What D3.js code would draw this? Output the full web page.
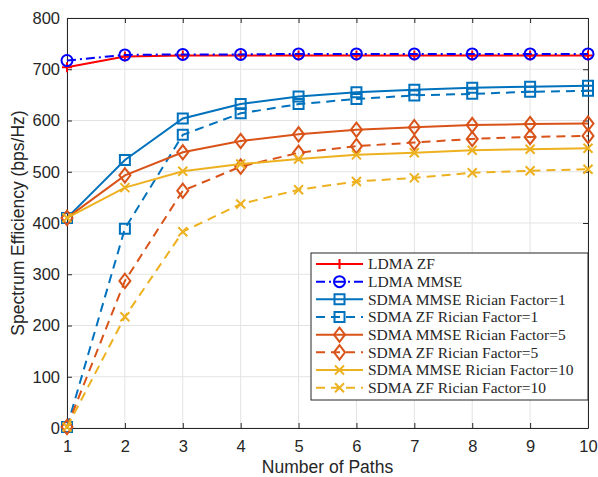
<!DOCTYPE html>
<html>
<head>
<meta charset="utf-8">
<script src="https://cdn.jsdelivr.net/npm/d3@7"></script>
<style>
  body { margin: 0; background: #fff; }
  svg { display: block; }
</style>
</head>
<body>
<svg id="chart" width="598" height="477"></svg>
<script>
const paths = [1, 2, 3, 4, 5, 6, 7, 8, 9, 10];
const yTicks = [0, 100, 200, 300, 400, 500, 600, 700, 800];

const ldmaZF = [704, 725, 727, 727, 727, 727, 727, 727, 727, 727];
const ldmaMMSE = [717, 728, 729, 729, 730, 730, 730, 730, 730, 730];
const sdmaMMSE1 = [410, 523, 604, 632, 647, 655, 660, 664, 666, 668];
const sdmaZF1 = [2, 389, 572, 614, 632, 642, 649, 652, 656, 658];
const sdmaMMSE5 = [410, 493, 538, 560, 573, 582, 587, 591, 593, 594];
const sdmaZF5 = [2, 287, 463, 510, 537, 550, 557, 564, 568, 570];
const sdmaMMSE10 = [410, 469, 501, 515, 525, 533, 537, 542, 544, 546];
const sdmaZF10 = [2, 217, 383, 437, 465, 481, 488, 498, 502, 505];

const series = [
  { name: "LDMA ZF", values: ldmaZF, color: "#ff0000", dash: null, marker: "plus" },
  { name: "LDMA MMSE", values: ldmaMMSE, color: "#0000ff", dash: "9,4,2,4", marker: "circle" },
  { name: "SDMA MMSE Rician Factor=1", values: sdmaMMSE1, color: "#0072bd", dash: null, marker: "square" },
  { name: "SDMA ZF Rician Factor=1", values: sdmaZF1, color: "#0072bd", dash: "9,6", marker: "square" },
  { name: "SDMA MMSE Rician Factor=5", values: sdmaMMSE5, color: "#d95319", dash: null, marker: "diamond" },
  { name: "SDMA ZF Rician Factor=5", values: sdmaZF5, color: "#d95319", dash: "9,6", marker: "diamond" },
  { name: "SDMA MMSE Rician Factor=10", values: sdmaMMSE10, color: "#edb120", dash: null, marker: "cross" },
  { name: "SDMA ZF Rician Factor=10", values: sdmaZF10, color: "#edb120", dash: "9,6", marker: "cross" }
];

const svg = d3.select("#chart");
const margin = { left: 67, right: 10, top: 18, bottom: 49 };
const width = 598 - margin.left - margin.right;
const height = 477 - margin.top - margin.bottom;

const x = d3.scaleLinear().domain([1, 10]).range([0, width]);
const y = d3.scaleLinear().domain([0, 800]).range([height, 0]);

const g = svg.append("g").attr("transform", `translate(${margin.left},${margin.top})`);

// grid
g.append("g").selectAll("line").data(paths).enter().append("line")
  .attr("x1", d => x(d)).attr("x2", d => x(d))
  .attr("y1", 0).attr("y2", height)
  .attr("stroke", "#e3e3e3").attr("stroke-width", 1);
g.append("g").selectAll("line").data(yTicks).enter().append("line")
  .attr("x1", 0).attr("x2", width)
  .attr("y1", d => y(d)).attr("y2", d => y(d))
  .attr("stroke", "#e3e3e3").attr("stroke-width", 1);

// axes
const axisColor = "#262626";
const tickFont = "16.5px 'Liberation Sans', Arial, sans-serif";

const xAxis = g.append("g").attr("transform", `translate(0,${height})`)
  .call(d3.axisBottom(x).tickValues(paths).tickFormat(d3.format("d")).tickSizeInner(-5).tickSizeOuter(0).tickPadding(12));
const xTop = g.append("g")
  .call(d3.axisTop(x).tickValues(paths).tickFormat("").tickSizeInner(-5).tickSizeOuter(0));
const yAxis = g.append("g")
  .call(d3.axisLeft(y).tickValues(yTicks).tickFormat(d3.format("d")).tickSizeInner(-5).tickSizeOuter(0).tickPadding(7));
const yRight = g.append("g").attr("transform", `translate(${width},0)`)
  .call(d3.axisRight(y).tickValues(yTicks).tickFormat("").tickSizeInner(-5).tickSizeOuter(0));

[xAxis, xTop, yAxis, yRight].forEach(a => {
  a.select(".domain").attr("stroke", axisColor).attr("stroke-width", 1);
  a.selectAll(".tick line").attr("stroke", axisColor);
  a.selectAll(".tick text").attr("fill", axisColor).style("font", tickFont);
});

// lines
const line = d3.line().x((d, i) => x(paths[i])).y(d => y(d));

const symbolPath = {
  plus: s => `M${-s},0H${s}M0,${-s}V${s}`,
  cross: s => `M${-s},${-s}L${s},${s}M${-s},${s}L${s},${-s}`,
  square: s => `M${-s},${-s}H${s}V${s}H${-s}Z`,
  diamond: s => `M0,${-s * 1.3}L${s},0L0,${s * 1.3}L${-s},0Z`,
  circle: s => `M${-s},0A${s},${s} 0 1,0 ${s},0A${s},${s} 0 1,0 ${-s},0Z`
};
const symbolSize = { plus: 5, cross: 4.5, square: 5, diamond: 5.5, circle: 5.5 };

function drawMarker(sel, s) {
  sel.append("path")
    .attr("d", symbolPath[s.marker](symbolSize[s.marker]))
    .attr("fill", "none")
    .attr("stroke", s.color)
    .attr("stroke-width", 2);
}

series.forEach(s => {
  g.append("path")
    .datum(s.values)
    .attr("d", line)
    .attr("fill", "none")
    .attr("stroke", s.color)
    .attr("stroke-width", 2)
    .attr("stroke-dasharray", s.dash);
  g.append("g").selectAll("g").data(s.values).enter().append("g")
    .attr("transform", (d, i) => `translate(${x(paths[i])},${y(d)})`)
    .each(function () { drawMarker(d3.select(this), s); });
});

// axis labels
const labelFont = "17.5px 'Liberation Sans', Arial, sans-serif";
svg.append("text")
  .attr("x", margin.left + width / 2).attr("y", 473)
  .attr("text-anchor", "middle").attr("fill", axisColor)
  .style("font", labelFont)
  .text("Number of Paths");
svg.append("text")
  .attr("transform", `translate(24,${margin.top + height / 2}) rotate(-90)`)
  .attr("text-anchor", "middle").attr("fill", axisColor)
  .style("font", labelFont)
  .text("Spectrum Efficiency (bps/Hz)");

// legend
const legend = svg.append("g").attr("transform", "translate(311,253)");
legend.append("rect")
  .attr("width", 277).attr("height", 147)
  .attr("fill", "#fff").attr("stroke", axisColor).attr("stroke-width", 1);

const items = legend.selectAll(".legend-item").data(series).enter().append("g")
  .attr("class", "legend-item")
  .attr("transform", (d, i) => `translate(0,${11 + i * 17.67})`);

items.append("line")
  .attr("x1", 5).attr("x2", 52).attr("y1", 0).attr("y2", 0)
  .attr("stroke", d => d.color).attr("stroke-width", 2)
  .attr("stroke-dasharray", d => d.dash);
items.append("g").attr("transform", "translate(28.5,0)")
  .each(function (d) { drawMarker(d3.select(this), d); });
items.append("text")
  .attr("x", 57).attr("y", 0).attr("dy", "0.35em")
  .attr("fill", axisColor)
  .style("font", "15.5px 'Liberation Serif', 'Times New Roman', serif")
  .text(d => d.name);
</script>
</body>
</html>
